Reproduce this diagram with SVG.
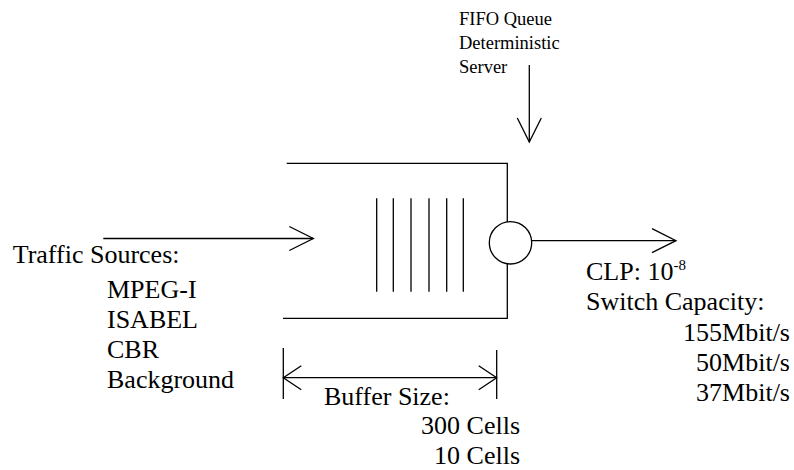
<svg xmlns="http://www.w3.org/2000/svg" width="794" height="470" viewBox="0 0 794 470">
<style>
.ln{stroke:#000;stroke-width:1.3;fill:none}
.t{font-family:"Liberation Serif","Times New Roman",serif;font-size:26px;fill:#000}
.ts{font-family:"Liberation Serif","Times New Roman",serif;font-size:18.5px;fill:#000}
.r{text-anchor:end}
</style>
<defs>
<marker id="open" viewBox="0 0 24 24" refX="24" refY="12" markerWidth="24" markerHeight="24" markerUnits="userSpaceOnUse" orient="auto" overflow="visible">
<path d="M0,0 L24,12 L0,24" fill="none" stroke="#000" stroke-width="1.3"/>
</marker>
<marker id="dim" viewBox="0 0 18 24" refX="18" refY="12" markerWidth="18" markerHeight="24" markerUnits="userSpaceOnUse" orient="auto-start-reverse" overflow="visible">
<path d="M0,0 L18,12 L0,24" fill="none" stroke="#000" stroke-width="1.3"/>
</marker>
</defs>
<rect width="794" height="470" fill="#fff"/>
<g id="queue">
<path class="ln" d="M286.7,163.3 H507.3 V318.3 H283"/>
<path class="ln" d="M376.7,198.3 V291.7 M393.3,198.3 V291.7 M411,198.3 V291.7 M429,198.3 V291.7 M446.7,198.3 V291.7 M463.3,198.3 V291.7"/>
</g>
<g id="server">
<circle cx="510.5" cy="242.8" r="21.2" fill="#fff" stroke="#000" stroke-width="1.3"/>
</g>
<g id="buffer-dimension">
<path class="ln" d="M283.3,348 V399 M496.7,350 V399"/>
</g>
<g id="connectors">
<line class="ln" x1="103.3" y1="238.5" x2="313.3" y2="238.5" marker-end="url(#open)"/>
<line class="ln" x1="531.7" y1="240.7" x2="676" y2="240.7" marker-end="url(#open)"/>
<line class="ln" x1="529.3" y1="65" x2="529.3" y2="142" marker-end="url(#open)"/>
<line class="ln" x1="283.3" y1="377.7" x2="496.7" y2="377.7" marker-start="url(#dim)" marker-end="url(#dim)"/>
</g>
<g id="label-fifo">
<text class="ts" x="459" y="25">FIFO Queue</text>
<text class="ts" x="459" y="49">Deterministic</text>
<text class="ts" x="459" y="73">Server</text>
</g>
<g id="label-traffic">
<text class="t" x="12.7" y="263">Traffic Sources:</text>
<text class="t" x="107" y="298">MPEG-I</text>
<text class="t" x="107" y="328">ISABEL</text>
<text class="t" x="107" y="358">CBR</text>
<text class="t" x="107" y="388">Background</text>
</g>
<g id="label-output">
<text class="t" x="586" y="280">CLP: 10<tspan dy="-10" font-size="15">-8</tspan></text>
<text class="t" x="586" y="310">Switch Capacity:</text>
<text class="t r" x="790" y="341">155Mbit/s</text>
<text class="t r" x="790" y="371">50Mbit/s</text>
<text class="t r" x="790" y="401">37Mbit/s</text>
</g>
<g id="label-buffer">
<text class="t" x="324" y="405">Buffer Size:</text>
<text class="t r" x="520" y="434">300 Cells</text>
<text class="t r" x="520" y="464">10 Cells</text>
</g>
</svg>
